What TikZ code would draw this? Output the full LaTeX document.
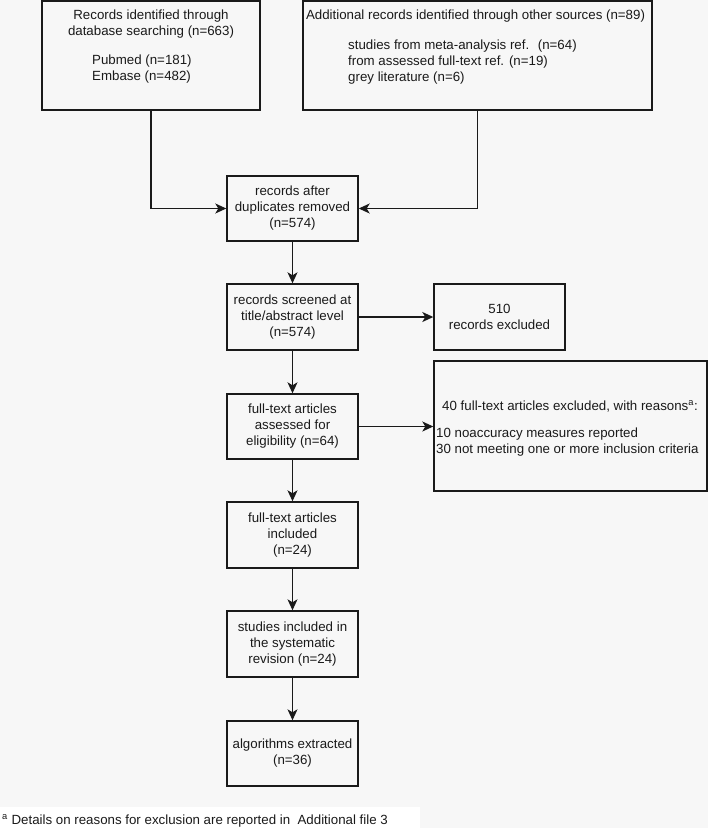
\documentclass[tikz,border=0pt]{standalone}
\usepackage{fontspec}
\setmainfont{Liberation Sans}
\usetikzlibrary{arrows.meta}
\definecolor{bggrey}{HTML}{F7F7F7}
\definecolor{edge}{HTML}{1A1A1A}

\begin{document}
\begin{tikzpicture}[x=1pt, y=-1pt,
    box/.style={draw=edge, line width=1.4pt, inner sep=0pt},
    txt/.style={font=\fontsize{13.3}{16}\selectfont, inner sep=0pt, align=center, text=edge},
    arr/.style={draw=edge, line width=1.4pt, -{Stealth[length=11pt, width=10pt, inset=3pt]}}]

    \useasboundingbox (0,0) rectangle (708,828);
    \fill[bggrey] (0,0) rectangle (708,828);
    \fill[white] (0,807) rectangle (420,828);

    % sources
    \node[box, minimum width=218pt, minimum height=109pt] (db) at (151,55.5) {};
    \node[txt] (dbhead) at (151,24.4) {Records identified through\\database searching (n=663)};
    \node[txt, align=left, anchor=west] (dbsub) at (92,69.4) {Pubmed (n=181)\\Embase (n=482)};

    \node[box, minimum width=349pt, minimum height=109pt] (other) at (477.5,55.5) {};
    \node[txt] (otherhead) at (475.5,16.4) {Additional records identified through other sources (n=89)};
    \node[txt, align=left, anchor=west] (othersub) at (348,62.4) {studies from meta-analysis ref.~ (n=64)\\from assessed full-text ref. (n=19)\\grey literature (n=6)};

    % main column
    \node[box, txt, minimum width=131pt, minimum height=65pt] (dup) at (292.5,208.5) {records after\\duplicates removed\\(n=574)};
    \node[box, txt, minimum width=131pt, minimum height=66pt] (screen) at (292.5,317) {records screened at\\title/abstract level\\(n=574)};
    \node[box, txt, minimum width=131pt, minimum height=66pt] (excl) at (499.5,317) {510\\records excluded};
    \node[box, txt, minimum width=131pt, minimum height=65pt] (elig) at (292.5,426.5) {full-text articles\\assessed for\\eligibility (n=64)};

    \node[box, minimum width=273pt, minimum height=130pt] (ftexcl) at (570.5,426) {};
    \node[txt] (ftexclhead) at (570,406.4) {40 full-text articles excluded, with reasons\textsuperscript{a}:};
    \node[txt, align=left, anchor=west] (ftexclsub) at (436,442.4) {10 noaccuracy measures reported\\30 not meeting one or more inclusion criteria};

    \node[box, txt, minimum width=131pt, minimum height=66pt] (incl) at (292.5,535) {full-text articles\\included\\(n=24)};
    \node[box, txt, minimum width=131pt, minimum height=66pt] (syst) at (292.5,644) {studies included in\\the systematic\\revision (n=24)};
    \node[box, txt, minimum width=131pt, minimum height=65pt] (algo) at (292.5,753.5) {algorithms extracted\\(n=36)};

    \node[txt, anchor=west] (note) at (2,821) {\textsuperscript{a} Details on reasons for exclusion are reported in~ Additional file 3};

    \draw[arr] (db.south) |- (dup.west);
    \draw[arr] (other.south) |- (dup.east);
    \draw[arr] (dup) -- (screen);
    \draw[arr] (screen) -- (excl);
    \draw[arr] (screen) -- (elig);
    \draw[arr] (elig.east) -- (elig.east -| ftexcl.west);
    \draw[arr] (elig) -- (incl);
    \draw[arr] (incl) -- (syst);
    \draw[arr] (syst) -- (algo);

\end{tikzpicture}
\end{document}
